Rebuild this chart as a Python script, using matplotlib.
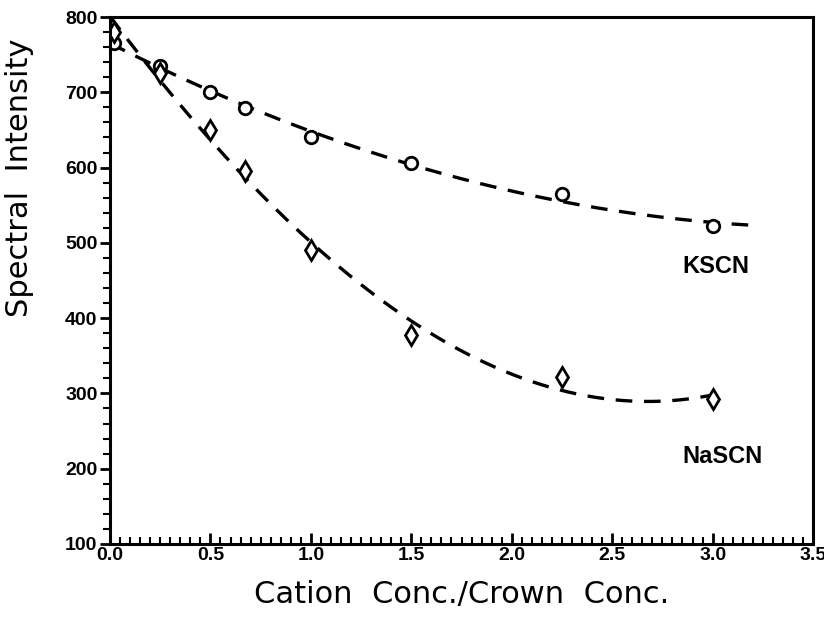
import numpy as np
import matplotlib.pyplot as plt
from matplotlib.ticker import MultipleLocator

# values
ratio = [0.02, 0.25, 0.5, 0.67, 1.0, 1.5, 2.25, 3.0]
kscn = [766, 735, 700, 679, 640, 606, 565, 522]
nascn = [780, 725, 650, 595, 490, 377, 322, 293]

# extent of the dashed fit lines
kscn_fit_end = 3.22
nascn_fit_end = 3.07

plt.rcParams['font.family'] = ['Liberation Sans', 'DejaVu Sans']

fig = plt.figure(figsize=(8.24, 6.25), dpi=100)
ax = fig.add_axes([0.1335, 0.1296, 0.8532, 0.8432])

for vals, end, marker, deg in [(kscn, kscn_fit_end, 'o', 2), (nascn, nascn_fit_end, 'd', 3)]:
    coef = np.polyfit(ratio, vals, deg)
    xs = np.linspace(0, end, 200)
    ax.plot(xs, np.polyval(coef, xs), color='black', lw=2.4, ls=(0, (5, 3.5)))
    ax.plot(ratio, vals, ls='none', marker=marker, ms=9 if marker == 'o' else 10,
            mfc='white', mec='black', mew=2.0)

ax.text(2.85, 468, 'KSCN', fontsize=17, fontweight='bold', va='center', ha='left')
ax.text(2.85, 216, 'NaSCN', fontsize=17, fontweight='bold', va='center', ha='left')

ax.set_xlim(0, 3.5)
ax.set_ylim(100, 800)
ax.xaxis.set_major_locator(MultipleLocator(0.5))
ax.xaxis.set_minor_locator(MultipleLocator(0.05))
ax.yaxis.set_major_locator(MultipleLocator(100))
ax.yaxis.set_minor_locator(MultipleLocator(20))
ax.xaxis.set_major_formatter(plt.FuncFormatter(lambda v, p: f'{v:.1f}'))

ax.tick_params(axis='x', which='major', direction='in', length=8, width=2, pad=2)
ax.tick_params(axis='x', which='minor', direction='in', length=5, width=1.5)
ax.tick_params(axis='y', which='major', direction='out', length=7, width=2, pad=2)
ax.tick_params(axis='y', which='minor', direction='out', length=5, width=1.5)
ax.tick_params(top=False, right=False, which='both')
for lab in ax.get_xticklabels() + ax.get_yticklabels():
    lab.set_fontsize(14)
    lab.set_fontweight('bold')
for s in ax.spines.values():
    s.set_linewidth(2.2)

ax.set_xlabel('Cation  Conc./Crown  Conc.', fontsize=22, family='DejaVu Sans', labelpad=12)
fig.text(20 / 824, 1 - 178 / 625, 'Spectral  Intensity', fontsize=22, family='DejaVu Sans',
         rotation=90, ha='center', va='center')

fig.savefig('out.png', dpi=100)
